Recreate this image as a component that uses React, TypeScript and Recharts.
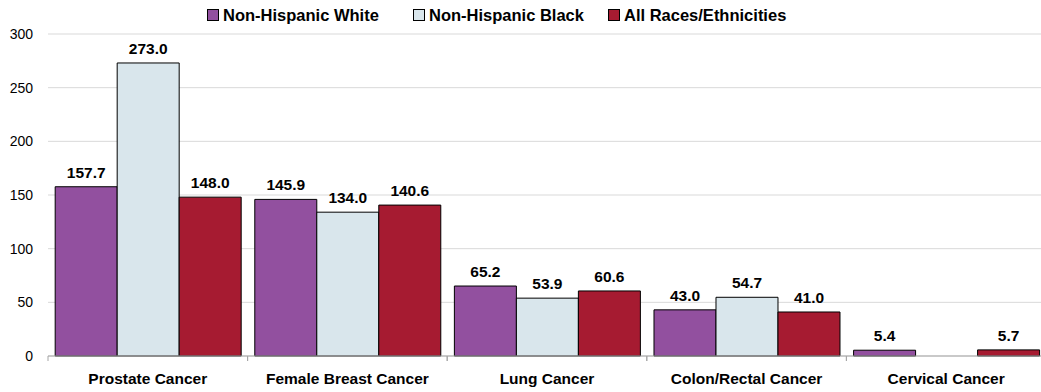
import React from 'react';
import {
  BarChart,
  Bar,
  XAxis,
  YAxis,
  CartesianGrid,
  LabelList,
} from 'recharts';

const categories = [
  'Prostate Cancer',
  'Female Breast Cancer',
  'Lung Cancer',
  'Colon/Rectal Cancer',
  'Cervical Cancer',
];
const nonHispanicWhite = [157.7, 145.9, 65.2, 43.0, 5.4];
const nonHispanicBlack = [273.0, 134.0, 53.9, 54.7, null];
const allRaces = [148.0, 140.6, 60.6, 41.0, 5.7];
const yTicks = [0, 50, 100, 150, 200, 250, 300];

const SERIES = [
  { key: 'white', name: 'Non-Hispanic White', color: '#92509F', left: 207 },
  { key: 'black', name: 'Non-Hispanic Black', color: '#D9E6EC', left: 413 },
  { key: 'all', name: 'All Races/Ethnicities', color: '#A61B31', left: 608 },
];

const data = categories.map((c, i) => ({
  name: c,
  white: nonHispanicWhite[i],
  black: nonHispanicBlack[i],
  all: allRaces[i],
}));

const FONT = '"Liberation Sans", Arial, sans-serif';
const TICK_MARGIN = 17;

const fmt = (v: any) => (v == null ? '' : Number(v).toFixed(1));

// category label plus small tick marks at the category boundaries
function CategoryTick(props: any) {
  const { x, y, payload } = props;
  const half = payload?.offset ?? 99.75;
  const axisY = y - TICK_MARGIN;
  return (
    <g>
      <line x1={x - half} x2={x - half} y1={axisY} y2={axisY + 5} stroke="#A6A6A6" />
      <line x1={x + half} x2={x + half} y1={axisY} y2={axisY + 5} stroke="#A6A6A6" />
      <text
        x={x}
        y={y}
        dy="0.71em"
        textAnchor="middle"
        fontSize={15.5}
        fontWeight="bold"
        fill="#000"
        fontFamily={FONT}
      >
        {payload.value}
      </text>
    </g>
  );
}

export default function App() {
  return (
    <div
      style={{
        position: 'absolute',
        left: 0,
        top: 0,
        width: 1041,
        height: 392,
        overflow: 'hidden',
        background: '#fff',
        fontFamily: FONT,
      }}
    >
      {SERIES.map((s) => (
        <div
          key={s.key}
          style={{
            position: 'absolute',
            top: 4,
            left: s.left,
            display: 'flex',
            alignItems: 'center',
            fontSize: 16.5,
            fontWeight: 'bold',
            color: '#000',
            lineHeight: '22px',
            whiteSpace: 'nowrap',
          }}
        >
          <span
            style={{
              display: 'inline-block',
              width: 10,
              height: 10,
              background: s.color,
              border: '1px solid #000',
              marginRight: 4,
            }}
          />
          {s.name}
        </div>
      ))}
      <BarChart
        width={1046}
        height={392}
        data={data}
        margin={{ top: 34, right: 0, bottom: 0, left: 0 }}
        barCategoryGap="3.6%"
        barGap={0}
      >
        <CartesianGrid vertical={false} stroke="#D9D9D9" />
        <XAxis
          dataKey="name"
          height={36}
          axisLine={{ stroke: '#A6A6A6' }}
          tickLine={false}
          tickSize={0}
          tickMargin={TICK_MARGIN}
          tick={<CategoryTick />}
          interval={0}
        />
        <YAxis
          width={48}
          domain={[0, 300]}
          ticks={yTicks}
          axisLine={false}
          tickLine={false}
          tickSize={0}
          tickMargin={15}
          tick={{ fontSize: 14, fill: '#000', fontFamily: FONT }}
        />
        {SERIES.map((s) => (
          <Bar
            key={s.key}
            dataKey={s.key}
            name={s.name}
            fill={s.color}
            stroke="#000"
            strokeWidth={1}
            isAnimationActive={false}
          >
            <LabelList
              dataKey={s.key}
              position="top"
              offset={9}
              formatter={fmt as any}
              style={{ fontSize: 15.5, fontWeight: 'bold', fill: '#000', fontFamily: FONT }}
            />
          </Bar>
        ))}
      </BarChart>
    </div>
  );
}
